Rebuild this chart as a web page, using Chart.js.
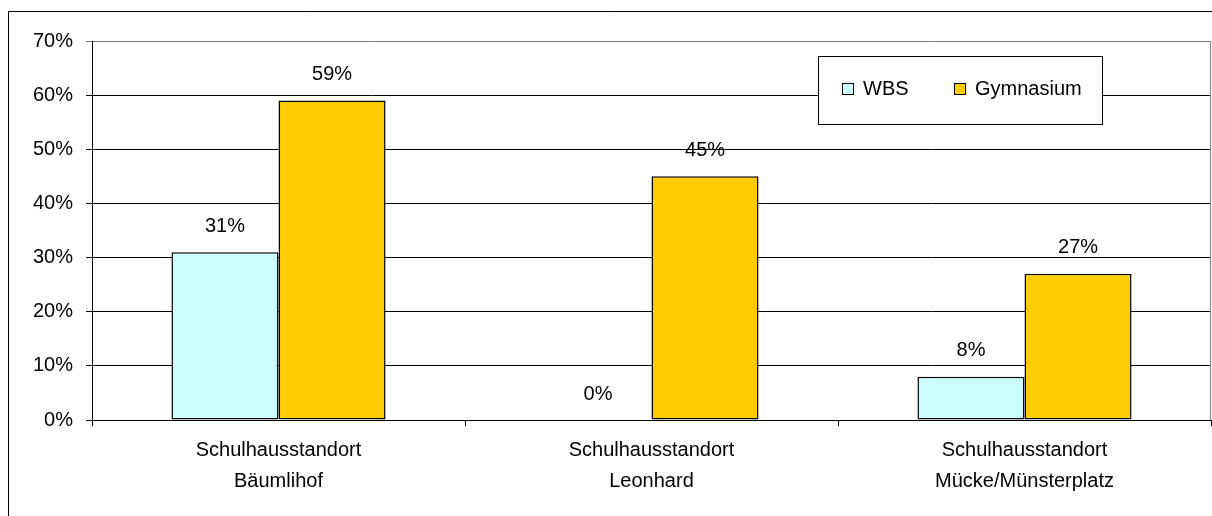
<!DOCTYPE html>
<html>
<head>
<meta charset="utf-8">
<script src="https://cdn.jsdelivr.net/npm/chart.js@4/dist/chart.umd.min.js"></script>
<style>
  html, body { margin: 0; padding: 0; background: #fff; }
  #wrap { width: 1212px; height: 516px; position: relative; }
</style>
</head>
<body>
<div id="wrap"><canvas id="chart" width="1212" height="516"></canvas></div>
<script>
//Data
const categories = [
    ['Schulhausstandort', 'Bäumlihof'],
    ['Schulhausstandort', 'Leonhard'],
    ['Schulhausstandort', 'Mücke/Münsterplatz']
];
const seriesNames = ['WBS', 'Gymnasium'];
const wbsValues = [31, 0, 8];
const gymValues = [59, 45, 27];
const yTicks = [0, 10, 20, 30, 40, 50, 60, 70];

const FONT = 'Liberation Sans, Arial, sans-serif';

// white background + outer frame + right plot border
const framePlugin = {
    id: 'frame',
    beforeDraw(chart) {
        const ctx = chart.ctx;
        ctx.save();
        ctx.fillStyle = '#fff';
        ctx.fillRect(0, 0, chart.width, chart.height);
        ctx.strokeStyle = '#000';
        ctx.lineWidth = 1;
        ctx.beginPath();
        ctx.moveTo(8.5, chart.height + 5);
        ctx.lineTo(8.5, 11.5);
        ctx.lineTo(chart.width + 5, 11.5);
        ctx.stroke();
        ctx.restore();
    },
    afterDraw(chart) {
        const ctx = chart.ctx;
        const a = chart.chartArea;
        ctx.save();
        ctx.strokeStyle = '#808080';
        ctx.lineWidth = 1;
        ctx.beginPath();
        ctx.moveTo(a.right - 0.5, a.top);
        ctx.lineTo(a.right - 0.5, a.bottom);
        ctx.stroke();
        ctx.restore();
    }
};

// value labels above bars
const valueLabels = {
    id: 'valueLabels',
    afterDatasetsDraw(chart) {
        const ctx = chart.ctx;
        ctx.save();
        ctx.font = '20px ' + FONT;
        ctx.fillStyle = '#000';
        ctx.textAlign = 'center';
        ctx.textBaseline = 'middle';
        chart.data.datasets.forEach((ds, i) => {
            chart.getDatasetMeta(i).data.forEach((bar, j) => {
                ctx.fillText(ds.data[j] + '%', bar.x, bar.y - 26);
            });
        });
        ctx.restore();
    }
};

// boxed legend like the original
const boxLegend = {
    id: 'boxLegend',
    afterDraw(chart) {
        const ctx = chart.ctx;
        ctx.save();
        ctx.fillStyle = '#fff';
        ctx.fillRect(818, 56, 284, 68);
        ctx.strokeStyle = '#000';
        ctx.lineWidth = 1;
        ctx.strokeRect(818.5, 56.5, 284, 68);
        ctx.font = '20px ' + FONT;
        ctx.textBaseline = 'middle';
        const xs = [842, 954];
        chart.data.datasets.forEach((ds, i) => {
            ctx.fillStyle = ds.backgroundColor;
            ctx.fillRect(xs[i], 83, 11, 11);
            ctx.strokeStyle = '#000';
            ctx.strokeRect(xs[i] + 0.5, 83.5, 11, 11);
            ctx.fillStyle = '#000';
            ctx.fillText(ds.label, xs[i] + 21, 89);
        });
        ctx.restore();
    }
};

new Chart(document.getElementById('chart'), {
    type: 'bar',
    data: {
        labels: categories,
        datasets: [{
            label: seriesNames[0],
            data: wbsValues,
            backgroundColor: '#CCFFFF',
            borderColor: '#000',
            borderWidth: 1.5,
            borderSkipped: false
        }, {
            label: seriesNames[1],
            data: gymValues,
            backgroundColor: '#FFCC00',
            borderColor: '#000',
            borderWidth: 1.5,
            borderSkipped: false
        }]
    },
    plugins: [framePlugin, valueLabels, boxLegend],
    options: {
        responsive: false,
        animation: false,
        layout: { padding: { top: 41, right: 1, left: 0, bottom: 0 } },
        datasets: {
            bar: { categoryPercentage: 0.574, barPercentage: 1 }
        },
        plugins: {
            legend: { display: false },
            tooltip: { enabled: false }
        },
        scales: {
            x: {
                afterFit: (s) => { s.height = 96; },
                grid: {
                    offset: true,
                    drawOnChartArea: false,
                    drawTicks: true,
                    tickLength: 6,
                    color: '#000'
                },
                border: { color: '#000', width: 1 },
                ticks: {
                    color: '#000',
                    font: { family: FONT, size: 20, lineHeight: 1.55 },
                    padding: 9,
                    maxRotation: 0
                }
            },
            y: {
                min: 0,
                max: 70,
                afterFit: (s) => { s.width = 92; },
                afterBuildTicks: (s) => { s.ticks = yTicks.map(v => ({ value: v })); },
                grid: {
                    color: (c) => c.tick && c.tick.value === 70 ? '#808080' : '#000',
                    tickLength: 6,
                    lineWidth: 1
                },
                border: { color: '#000', width: 1 },
                ticks: {
                    color: '#000',
                    font: { family: FONT, size: 20 },
                    padding: 13,
                    callback: (v) => v + '%'
                }
            }
        }
    }
});
</script>
</body>
</html>
